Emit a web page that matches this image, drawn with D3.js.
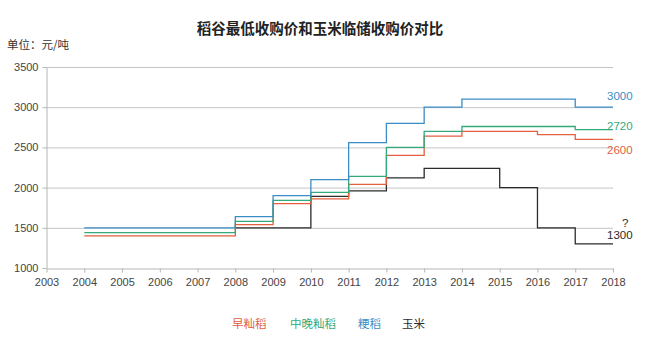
<!DOCTYPE html>
<html>
<head>
<meta charset="utf-8">
<script src="https://cdn.jsdelivr.net/npm/d3@7"></script>
<style>
  html, body { margin: 0; padding: 0; background: #fff; }
  svg { display: block; font-family: "Noto Sans CJK SC", "Noto Sans", sans-serif; }
</style>
</head>
<body>
<svg id="chart" width="650" height="339"></svg>
<script>
const years = [2004, 2005, 2006, 2007, 2008, 2009, 2010, 2011, 2012, 2013, 2014, 2015, 2016, 2017];
const earlyIndica = [1400, 1400, 1400, 1400, 1540, 1800, 1860, 2040, 2400, 2640, 2700, 2700, 2660, 2600];
const midLateIndica = [1440, 1440, 1440, 1440, 1580, 1840, 1940, 2140, 2500, 2700, 2760, 2760, 2760, 2720];
const japonica = [1500, 1500, 1500, 1500, 1640, 1900, 2100, 2560, 2800, 3000, 3100, 3100, 3100, 3000];
const corn = [null, null, null, null, 1500, 1500, 1890, 1960, 2120, 2240, 2240, 2000, 1500, 1300];
const seriesNames = ["早籼稻", "中晚籼稻", "粳稻", "玉米"];
const seriesColors = ["#e2603f", "#34a97c", "#3b8dc6", "#2b2b2b"];
const xTicks = d3.range(2003, 2019);
const yTicks = [1000, 1500, 2000, 2500, 3000, 3500];
const endLabels = [
  { text: "3000", series: 2, dy: -11 },
  { text: "2720", series: 1, dy: -4 },
  { text: "2600", series: 0, dy: 11 },
  { text: "1300", series: 3, dy: -9 }
];

const svg = d3.select("#chart");
const x = d3.scaleLinear().domain([2003, 2018]).range([46.5, 613]);
const y = d3.scaleLinear().domain([1000, 3500]).range([268, 67]);

// title
svg.append("text").attr("x", 320).attr("y", 34).attr("text-anchor", "middle")
  .attr("font-size", 14.5).attr("font-weight", "bold").attr("fill", "#222")
  .text("稻谷最低收购价和玉米临储收购价对比");
svg.append("text").attr("x", 7).attr("y", 49).attr("font-size", 11.5).attr("fill", "#333")
  .text("单位：元/吨");

// gridlines
svg.append("g").selectAll("line").data(yTicks.filter(d => d > 1000)).join("line")
  .attr("x1", x(2003)).attr("x2", x(2018))
  .attr("y1", d => y(d) + 0.5).attr("y2", d => y(d) + 0.5)
  .attr("stroke", "#c4c4c4").attr("stroke-width", 1);

// axes
const xAxis = svg.append("g").attr("transform", `translate(0,${y(1000) + 0.5})`)
  .call(d3.axisBottom(x).tickValues(xTicks).tickFormat(d3.format("d")).tickSize(4).tickSizeOuter(0));
const yAxis = svg.append("g").attr("transform", `translate(${x(2003)},0)`)
  .call(d3.axisLeft(y).tickValues(yTicks).tickFormat(d3.format("d")).tickSize(4).tickSizeOuter(0));
[xAxis, yAxis].forEach(g => {
  g.select(".domain").attr("stroke", "#b5b5b5");
  g.selectAll(".tick line").attr("stroke", "#b5b5b5");
  g.selectAll("text").attr("font-size", 11).attr("fill", "#444")
    .attr("font-family", "'Liberation Sans', Arial, sans-serif");
});
xAxis.selectAll("text").attr("dy", "0.95em").attr("y", 7);
yAxis.selectAll("text").attr("x", -8);

// series
const allSeries = [earlyIndica, midLateIndica, japonica, corn];
const line = d3.line().defined(d => d.value != null)
  .x(d => x(d.year)).y(d => y(d.value)).curve(d3.curveStepAfter);
const drawOrder = [3, 0, 1, 2];
drawOrder.forEach(i => {
  const vals = allSeries[i];
  const pts = years.map((yr, k) => ({ year: yr, value: vals[k] }));
  pts.push({ year: 2018, value: vals[vals.length - 1] });
  svg.append("path").datum(pts).attr("d", line)
    .attr("fill", "none").attr("stroke", seriesColors[i]).attr("stroke-width", 1.3);
});

// end labels
endLabels.forEach(l => {
  const vals = allSeries[l.series];
  svg.append("text").attr("x", 607).attr("y", y(vals[vals.length - 1]) + l.dy)
    .attr("dy", "0.35em").attr("font-size", 11.5).attr("fill", seriesColors[l.series])
    .attr("font-family", "'Liberation Sans', Arial, sans-serif")
    .text(l.text);
});
svg.append("text").attr("x", 622).attr("y", y(1300) - 21).attr("dy", "0.35em")
  .attr("font-size", 11.5).attr("fill", "#2b2b2b")
  .attr("font-family", "'Liberation Sans', Arial, sans-serif").text("?");

// legend
const legendX = [232, 290, 358, 402];
svg.append("g").selectAll("text").data(seriesNames).join("text")
  .attr("x", (d, i) => legendX[i]).attr("y", 324).attr("dy", "0.35em")
  .attr("font-size", 11.5).attr("fill", (d, i) => seriesColors[i])
  .text(d => d);
</script>
</body>
</html>
